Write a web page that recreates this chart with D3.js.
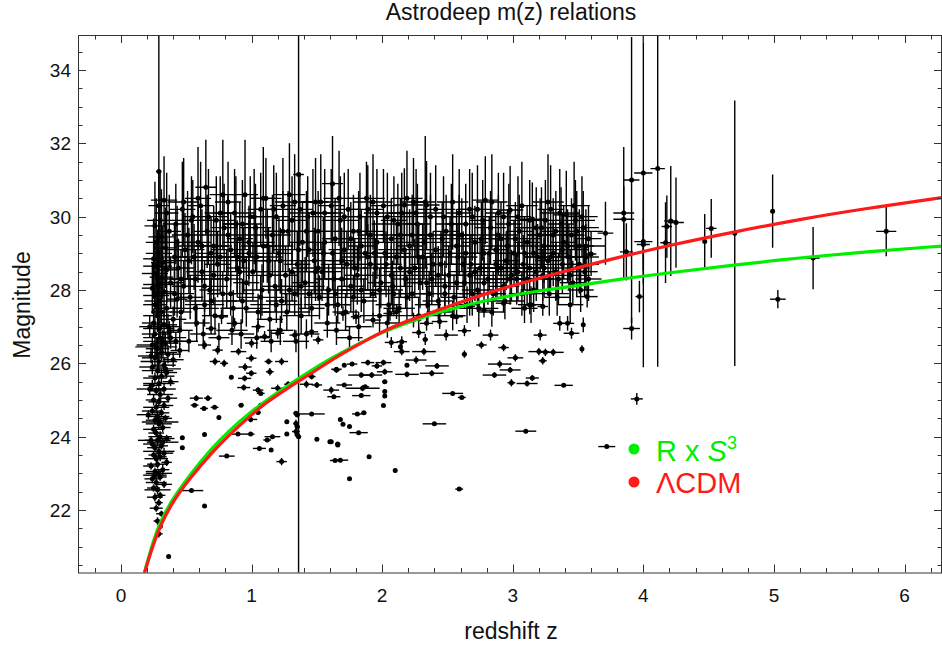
<!DOCTYPE html>
<html>
<head>
<meta charset="utf-8">
<script src="https://cdn.jsdelivr.net/npm/d3@7"></script>
<style>
  body { margin: 0; background: #fff; }
  svg text { font-family: "Liberation Sans", Arial, sans-serif; fill: #111; }
</style>
</head>
<body>
<svg id="chart" width="942" height="648"></svg>
<script>
// each point: [z, magnitude, z error, magnitude error]

// dense low-redshift column
const lowZColumn = [
  [0.29,21.35,0.03,0.1],[0.30,21.55,0.02,0.08],[0.28,21.7,0.03,0.1],[0.31,21.9,0.04,0.08],
  [0.27,22.05,0.05,0.1],[0.29,22.2,0.03,0.1],[0.26,22.35,0.06,0.12],[0.30,22.4,0.04,0.1],
  [0.28,22.55,0.1,0.12],[0.25,22.6,0.05,0.1],[0.33,22.7,0.06,0.1],[0.27,22.75,0.08,0.12],
  [0.24,22.85,0.06,0.12],[0.30,22.9,0.05,0.1],[0.29,23.0,0.1,0.1],[0.26,23.05,0.07,0.1],
  [0.32,23.1,0.05,0.15],[0.23,23.2,0.06,0.1],[0.28,23.25,0.08,0.12],[0.35,23.3,0.04,0.1],
  [0.27,23.4,0.09,0.1],[0.30,23.45,0.05,0.12],[0.25,23.5,0.04,0.1],[0.33,23.55,0.07,0.15],
  [0.29,23.6,0.12,0.12],[0.26,23.7,0.06,0.1],[0.31,23.75,0.05,0.1],[0.24,23.8,0.07,0.12],
  [0.28,23.9,0.1,0.15],[0.35,23.95,0.06,0.1],[0.30,24.0,0.09,0.15],[0.27,24.1,0.06,0.1],
  [0.25,24.2,0.08,0.12],[0.32,24.25,0.06,0.12],[0.29,24.35,0.1,0.15],[0.26,24.45,0.07,0.12],
  [0.34,24.5,0.05,0.1],[0.28,24.55,0.09,0.15],[0.31,24.65,0.06,0.12],[0.24,24.7,0.08,0.1],
  [0.27,24.8,0.1,0.15],[0.33,24.85,0.07,0.12],[0.29,24.95,0.08,0.12],[0.25,25.0,0.06,0.15],
  [0.36,25.05,0.07,0.1],[0.30,25.15,0.1,0.15],[0.27,25.25,0.06,0.12],[0.33,25.3,0.09,0.15],
  [0.24,25.4,0.07,0.15],[0.29,25.45,0.12,0.2],[0.38,25.5,0.06,0.12],[0.26,25.6,0.09,0.15],
  [0.31,25.65,0.1,0.2],[0.35,25.75,0.08,0.15],[0.28,25.8,0.12,0.2],[0.24,25.9,0.1,0.2],
  [0.33,25.95,0.09,0.2],[0.29,26.05,0.14,0.25],[0.40,26.1,0.08,0.2],[0.26,26.15,0.1,0.25],
  [0.36,26.25,0.1,0.25],[0.31,26.3,0.12,0.25],[0.45,26.35,0.07,0.2],[0.28,26.4,0.09,0.3],
  [0.24,26.5,0.12,0.3],[0.34,26.55,0.1,0.3],[0.42,26.6,0.09,0.25],[0.30,26.7,0.13,0.35],
  [0.26,26.8,0.1,0.35],[0.37,26.85,0.08,0.3],[0.29,26.95,0.12,0.4],[0.33,27.05,0.1,0.4],
  [0.25,27.1,0.09,0.4],[0.40,27.2,0.1,0.35],[0.28,27.3,0.11,0.45],[0.31,27.4,0.08,0.5],
  [0.35,27.5,0.1,0.5],[0.26,27.6,0.09,0.55],[0.30,27.7,0.12,0.6],[0.43,27.75,0.08,0.5],
  [0.27,27.85,0.1,0.6],[0.33,27.95,0.09,0.7],[0.24,28.05,0.08,0.7],[0.29,28.15,0.12,0.8],
  [0.38,28.2,0.1,0.7],[0.31,28.35,0.09,0.8],[0.26,28.45,0.1,0.9],[0.35,28.55,0.08,0.9],
  [0.28,28.65,0.11,1.0],[0.32,28.75,0.09,1.0],[0.25,28.85,0.08,1.1],[0.41,28.9,0.1,0.9],
  [0.29,29.0,0.1,1.2],[0.34,29.15,0.09,1.1],[0.27,29.3,0.08,1.2],[0.31,29.45,0.1,1.3],
  [0.37,29.6,0.09,1.0],[0.26,29.75,0.08,1.2],[0.30,29.9,0.1,1.3],[0.35,30.1,0.09,1.1],
  [0.29,30.3,0.08,1.0],[0.33,30.45,0.1,1.2],[0.29,31.23,0.02,4.2],
  [0.22,27.0,0.08,0.3],[0.36,27.0,0.1,0.35],[0.32,26.6,0.15,0.3],[0.23,26.2,0.1,0.2],
  [0.38,26.7,0.12,0.3],[0.27,26.45,0.16,0.25],[0.22,25.3,0.1,0.15],[0.34,25.85,0.12,0.2],
  [0.21,24.6,0.09,0.12],[0.30,24.4,0.14,0.12],[0.23,23.9,0.1,0.1],[0.32,23.85,0.12,0.1],
  [0.26,22.95,0.09,0.1]
];

// main cloud of faint galaxies, large magnitude errors
const mainCloud = [
  [0.42,29.8,.1,1.1],[0.44,28.6,.12,.8],[0.46,27.4,.08,.5],[0.47,30.2,.1,1.3],[0.49,29.1,.15,1.0],[0.45,26.9,.1,.4],[0.48,28.1,.09,.7],
  [0.51,29.5,.12,1.2],[0.53,27.8,.1,.6],[0.55,30.0,.08,1.0],[0.56,28.9,.14,.9],[0.58,27.1,.1,.5],[0.52,26.6,.07,.3],[0.59,29.3,.1,1.1],[0.57,28.3,.2,.8],
  [0.61,30.3,.1,1.2],[0.62,28.5,.12,.8],[0.64,27.6,.15,.6],[0.66,29.6,.1,1.0],[0.68,28.0,.08,.7],[0.63,26.8,.1,.4],[0.69,29.0,.12,1.0],[0.65,30.8,.08,1.3],
  [0.71,29.2,.14,1.1],[0.72,27.3,.1,.5],[0.74,28.7,.1,.9],[0.76,30.1,.12,1.0],[0.78,27.9,.1,.6],[0.75,26.7,.08,.4],[0.79,29.7,.1,1.2],
  [0.81,28.3,.12,.8],[0.82,30.4,.1,1.1],[0.84,29.1,.15,1.0],[0.86,27.5,.1,.5],[0.88,29.8,.1,1.3],[0.85,26.9,.12,.4],[0.89,28.6,.08,.8],
  [0.91,29.4,.1,1.0],[0.93,27.7,.12,.6],[0.95,30.6,.1,1.5],[0.96,28.2,.1,.7],[0.98,29.0,.14,.9],[0.92,26.8,.1,.4],[0.99,30.0,.1,1.1],[0.94,28.8,.2,.9],
  [1.01,28.5,.1,.8],[1.03,29.7,.12,1.2],[1.05,27.4,.1,.5],[1.07,30.2,.1,1.0],[1.08,28.0,.15,.7],[1.04,26.7,.1,.3],[1.09,29.2,.1,1.0],
  [1.11,30.5,.12,1.1],[1.13,28.8,.1,.9],[1.14,27.2,.1,.5],[1.16,29.5,.14,1.1],[1.18,28.1,.1,.7],[1.15,26.6,.08,.3],[1.19,30.0,.1,1.2],
  [1.21,29.0,.1,1.0],[1.23,27.7,.12,.6],[1.24,30.3,.1,1.3],[1.26,28.4,.1,.8],[1.28,29.6,.15,1.1],[1.22,26.9,.1,.4],[1.29,28.0,.1,.6],
  [1.31,29.9,.12,1.2],[1.33,27.9,.1,.6],[1.35,28.7,.1,.9],[1.37,30.2,.1,1.0],[1.38,27.3,.14,.5],[1.34,26.6,.1,.3],[1.39,29.3,.1,1.1],
  [1.36,31.15,.04,13],
  [1.41,28.2,.1,.7],[1.43,30.0,.12,1.1],[1.44,29.1,.1,1.0],[1.46,27.5,.1,.5],[1.48,28.8,.15,.9],[1.42,26.8,.1,.4],[1.49,30.4,.1,1.2],
  [1.51,29.6,.1,1.1],[1.52,27.8,.12,.6],[1.54,28.5,.1,.8],[1.56,30.1,.14,1.2],[1.58,27.1,.1,.4],[1.55,29.0,.1,1.0],[1.59,28.0,.2,.7],
  [1.61,30.3,.1,1.0],[1.63,28.3,.12,.8],[1.64,29.4,.1,1.1],[1.66,27.6,.1,.5],[1.68,29.9,.14,1.2],[1.65,26.9,.1,.4],[1.69,28.8,.1,.9],[1.62,30.9,.08,1.3],
  [1.71,29.1,.12,1.0],[1.72,27.4,.1,.5],[1.74,30.2,.1,1.1],[1.76,28.1,.1,.7],[1.78,29.6,.15,1.0],[1.75,26.7,.1,.3],[1.79,28.6,.1,.8],
  [1.81,28.4,.1,.8],[1.83,30.0,.12,1.2],[1.84,29.2,.1,1.0],[1.86,27.7,.1,.6],[1.88,30.5,.14,1.0],[1.82,27.0,.1,.4],[1.89,28.9,.2,.9],
  [1.91,29.5,.1,1.1],[1.93,27.9,.12,.6],[1.95,28.6,.1,.8],[1.96,30.1,.1,1.2],[1.98,27.3,.15,.5],[1.94,29.0,.1,.9],[1.99,28.2,.1,.7],
  [2.01,30.3,.1,1.0],[2.03,28.7,.12,.9],[2.05,27.6,.1,.5],[2.07,29.4,.1,1.1],[2.08,28.1,.15,.7],[2.04,27.1,.1,.4],[2.09,29.9,.1,1.2],
  [2.11,28.9,.1,.9],[2.13,27.5,.12,.5],[2.15,30.1,.1,1.1],[2.17,30.32,.08,1.0],[2.18,28.3,.1,.8],[2.14,29.5,.15,1.0],[2.19,27.8,.1,.6],
  [2.21,29.2,.1,1.0],[2.23,27.9,.12,.6],[2.25,28.6,.1,.8],[2.27,29.8,.1,1.1],[2.28,27.3,.15,.5],[2.24,30.4,.1,1.2],[2.29,28.2,.1,.7],
  [2.31,28.9,.1,.9],[2.33,30.4,.08,1.8],[2.34,30.32,.1,1.2],[2.35,27.6,.1,.5],[2.37,29.5,.12,1.1],[2.38,28.3,.1,.7],[2.36,27.9,.15,.6],
  [2.41,29.1,.1,1.0],[2.43,27.7,.12,.5],[2.45,28.7,.1,.9],[2.47,30.0,.1,1.1],[2.48,28.1,.15,.7],[2.44,27.4,.1,.4],[2.49,29.6,.1,1.0],
  [2.51,28.4,.1,.8],[2.53,29.8,.12,1.1],[2.55,27.8,.1,.6],[2.57,29.2,.1,1.0],[2.58,28.9,.15,.9],[2.54,27.3,.1,.4],[2.59,30.1,.1,1.2],
  [2.61,29.5,.1,1.0],[2.63,28.2,.12,.7],[2.65,27.6,.1,.5],[2.67,30.2,.1,1.1],[2.68,28.7,.15,.8],[2.64,29.0,.1,.9],[2.69,27.9,.1,.6],
  [2.71,29.3,.1,1.0],[2.73,28.0,.12,.6],[2.75,28.6,.1,.8],[2.77,29.9,.1,1.1],[2.79,30.45,.1,1.2],[2.74,27.5,.15,.5],[2.78,29.0,.1,.9],
  [2.81,28.3,.1,.7],[2.83,29.7,.12,1.0],[2.85,27.9,.1,.6],[2.87,29.1,.1,1.0],[2.88,28.6,.15,.8],[2.84,27.4,.1,.4],[2.89,30.1,.1,1.1],
  [2.91,29.4,.1,1.0],[2.93,28.1,.12,.7],[2.95,28.8,.1,.8],[2.97,29.8,.1,1.1],[2.98,30.18,.1,1.2],[2.94,27.7,.15,.5],[2.99,28.4,.1,.7],
  [3.01,29.0,.1,.9],[3.03,28.3,.12,.7],[3.05,29.6,.1,1.0],[3.07,27.9,.1,.6],[3.08,28.7,.15,.8],[3.04,30.0,.1,1.1],[3.09,27.5,.1,.4],
  [3.11,29.3,.1,1.0],[3.13,28.6,.12,.8],[3.15,29.93,.1,1.0],[3.16,28.0,.1,.6],[3.18,29.7,.15,1.1],[3.14,27.6,.1,.5],[3.19,28.9,.1,.9],
  [3.21,29.5,.1,1.0],[3.23,28.4,.12,.7],[3.25,29.9,.1,1.1],[3.27,28.8,.1,.9],[3.28,27.9,.15,.6],[3.24,29.2,.1,1.0],[3.29,30.2,.1,1.2],
  [3.31,29.0,.1,.9],[3.33,29.6,.12,1.1],[3.35,28.3,.1,.7],[3.37,29.8,.1,1.0],[3.38,28.7,.15,.8],[3.34,27.8,.1,.5],[3.39,29.3,.1,1.0],
  [3.41,30.05,.1,1.2],[3.43,28.9,.12,.9],[3.45,29.5,.1,1.0],[3.46,28.2,.1,.6],[3.48,29.9,.15,1.1],[3.44,27.6,.1,.5],[3.49,28.6,.1,.8],
  [3.51,29.2,.1,1.0],[3.52,28.0,.1,.6],[3.54,29.7,.12,1.0],[3.55,28.5,.1,.7],[3.57,27.82,.08,.3],[3.58,29.4,.1,.9],[3.56,28.9,.1,.9]
];

// more of the cloud, wider redshift errors
const cloudWide = [
  [0.43,29.3,.18,1.0],[0.46,28.3,.2,.8],[0.48,30.4,.12,1.2],[0.41,27.9,.15,.6],
  [0.52,28.8,.2,.9],[0.54,29.9,.15,1.2],[0.57,27.5,.18,.5],[0.59,30.5,.1,1.4],
  [0.62,29.2,.2,1.0],[0.64,28.1,.18,.7],[0.67,30.0,.15,1.3],[0.69,27.7,.2,.6],
  [0.71,28.4,.2,.8],[0.73,29.9,.15,1.2],[0.76,28.9,.2,1.0],[0.78,30.6,.1,1.5],
  [0.82,29.5,.2,1.1],[0.84,27.9,.18,.6],[0.87,30.1,.15,1.2],[0.89,28.9,.2,1.0],
  [0.91,28.5,.2,.8],[0.93,29.8,.15,1.2],[0.96,27.5,.18,.5],[0.98,29.3,.2,1.0],
  [1.02,30.0,.15,1.3],[1.04,28.9,.2,.9],[1.07,27.8,.18,.6],[1.09,30.5,.1,1.4],
  [1.12,29.2,.2,1.0],[1.14,28.4,.18,.8],[1.17,30.2,.15,1.2],[1.19,27.6,.2,.5],
  [1.22,28.8,.2,.9],[1.24,29.6,.15,1.1],[1.27,27.4,.18,.5],[1.29,30.6,.12,1.4],
  [1.31,28.5,.2,.8],[1.33,30.4,.15,1.3],[1.36,29.1,.2,1.0],[1.38,28.1,.18,.7],
  [1.42,29.6,.2,1.1],[1.44,27.9,.15,.6],[1.47,30.1,.18,1.2],[1.49,28.5,.2,.8],
  [1.51,28.6,.2,.9],[1.53,30.4,.15,1.3],[1.56,29.3,.2,1.0],[1.58,27.6,.18,.5],
  [1.62,29.0,.2,1.0],[1.64,27.9,.18,.6],[1.67,30.5,.12,1.3],[1.69,28.3,.2,.8],
  [1.71,30.0,.15,1.2],[1.73,28.7,.2,.9],[1.76,29.4,.2,1.0],[1.78,27.8,.18,.6],
  [1.82,29.6,.2,1.1],[1.84,28.0,.15,.6],[1.87,29.0,.2,1.0],[1.89,30.2,.12,1.2],
  [1.91,28.7,.2,.9],[1.93,30.4,.15,1.3],[1.96,29.3,.2,1.0],[1.98,28.0,.18,.6],
  [2.02,29.0,.2,1.0],[2.04,30.0,.15,1.2],[2.07,28.4,.2,.8],[2.09,27.9,.18,.6],
  [2.12,29.8,.2,1.1],[2.14,28.6,.15,.8],[2.17,29.1,.2,1.0],[2.19,30.5,.12,1.3],
  [2.21,28.5,.2,.8],[2.23,29.5,.15,1.1],[2.26,30.1,.2,1.2],[2.28,28.9,.18,.9],
  [2.32,29.3,.2,1.0],[2.34,28.2,.15,.7],[2.37,30.0,.2,1.2],[2.39,28.7,.18,.9],
  [2.41,30.2,.15,1.2],[2.43,28.4,.2,.8],[2.46,29.4,.2,1.0],[2.48,27.9,.18,.6],
  [2.52,29.0,.2,1.0],[2.54,30.4,.12,1.3],[2.57,28.2,.2,.7],[2.59,29.5,.15,1.1],
  [2.62,28.7,.2,.9],[2.64,29.8,.15,1.1],[2.67,28.4,.2,.8],[2.69,30.0,.18,1.2],
  [2.71,28.5,.2,.8],[2.73,30.2,.15,1.2],[2.76,29.4,.2,1.0],[2.78,28.2,.18,.7],
  [2.82,29.0,.2,1.0],[2.84,30.4,.12,1.3],[2.87,28.7,.2,.9],[2.89,29.5,.15,1.1],
  [2.91,28.6,.2,.8],[2.93,30.0,.15,1.2],[2.96,29.2,.2,1.0],[2.98,28.3,.18,.7],
  [3.02,29.4,.2,1.0],[3.04,28.5,.15,.8],[3.07,30.3,.12,1.2],[3.09,29.0,.2,1.0],
  [3.11,28.3,.2,.7],[3.13,29.9,.15,1.1],[3.16,29.0,.2,1.0],[3.18,28.5,.18,.8],
  [3.22,29.7,.2,1.1],[3.24,28.6,.15,.8],[3.27,30.4,.12,1.3],[3.29,28.9,.2,.9],
  [3.31,29.5,.2,1.0],[3.33,28.5,.15,.8],[3.36,30.1,.15,1.2],[3.38,29.1,.2,1.0],
  [3.42,29.2,.2,1.0],[3.44,28.4,.15,.7],[3.47,30.3,.12,1.2],[3.49,29.6,.2,1.1],
  [3.51,28.7,.15,.8],[3.53,30.0,.12,1.1],[3.56,29.2,.15,1.0],[3.58,28.3,.1,.6]
];

// brighter objects below the cloud, small errors
const brightSparse = [
  [0.365,20.73,0,0],[0.54,22.53,0.09,0.05],[0.64,22.11,0,0],[0.64,24.06,0,0],[0.81,23.47,0.06,0.05],
  [0.577,25.05,0.05,0.08],[0.666,25.05,0.03,0.08],[0.564,24.86,0.03,0.05],[0.636,24.77,0.03,0.05],
  [0.717,24.8,0.03,0.05],[0.75,24.52,0,0.05],[0.47,23.97,0,0.05],[0.47,23.7,0,0],
  [0.845,25.62,0,0.05],[0.947,25.59,0.05,0.08],[0.998,25.73,0.04,0.08],[1.14,25.77,0.03,0.1],
  [0.94,25.34,0.05,0.08],[1.05,25.27,0.04,0.08],[1.07,25.18,0.03,0.05],[1.20,25.32,0.05,0.1],
  [1.28,25.43,0.03,0.08],[1.42,25.43,0.05,0.1],[1.50,25.41,0.04,0.08],[1.61,25.27,0.06,0.1],
  [1.65,25.82,0.03,0.08],[1.46,25.64,0.03,0.08],[1.23,26.05,0.05,0.1],[1.13,26.05,0.03,0.08],
  [0.998,26.14,0.04,0.1],[0.92,24.86,0.02,0.05],[0.993,24.47,0.05,0.08],[1.07,24.86,0.02,0.05],
  [1.05,24.66,0.02,0.05],[0.896,24.07,0.07,0.05],[0.993,24.07,0.03,0.05],[1.12,23.91,0.03,0.05],
  [1.16,24.0,0.06,0.05],[1.27,24.07,0,0.05],[1.06,23.68,0.05,0.05],[1.15,23.64,0,0.05],
  [1.23,23.32,0.04,0.1],[1.50,23.93,0,0],[1.60,23.86,0,0],[1.66,23.8,0.02,0],[1.64,23.35,0.04,0],
  [1.34,24.64,0.02,0.05],[1.35,24.59,0.02,0.05],[1.34,24.36,0.02,0.1],[1.35,24.27,0.02,0.05],
  [1.34,24.14,0.03,0.1],[1.35,24.05,0.02,0.05],[1.36,24.0,0.02,0.05],[1.46,24.62,0.1,0.05],[1.27,24.41,0,0.05],
  [1.05,27.0,0.05,0.15],[1.10,26.73,0.04,0.15],[1.20,26.82,0.05,0.15],[1.33,26.77,0.04,0.15],
  [1.46,26.86,0.05,0.15],[1.51,26.64,0.04,0.12],[0.77,27.27,0.05,0.2],[0.87,27.09,0.06,0.15],
  [0.69,26.95,0.04,0.15],[0.64,26.5,0.05,0.12],[0.74,26.36,0.04,0.12],[0.90,26.32,0.06,0.1],
  [1.00,26.55,0.05,0.12],[0.72,26.05,0.04,0.1],[0.79,26.0,0.03,0.1],[0.95,25.9,0.05,0.1],
  [1.65,25.84,0.04,0.05],[1.71,25.95,0,0.05],[1.77,25.98,0.04,0.05],[1.84,25.68,0.1,0.08],
  [1.89,26.02,0.05,0.08],[1.92,25.68,0.08,0.08],[1.96,25.93,0.04,0.08],[2.01,26.02,0.06,0.08],
  [2.02,25.77,0.06,0.08],[2.19,25.7,0.09,0.08],[2.19,25.95,0,0.05],[2.26,26.09,0.08,0.1],
  [2.38,25.73,0.09,0.08],[2.42,25.93,0.09,0.08],[1.71,25.41,0.06,0.05],[1.85,25.32,0.13,0.08],
  [1.87,25.36,0.03,0.05],[1.84,25.12,0.07,0.05],[2.02,25.5,0.02,0.05],[2.02,25.23,0,0.05],
  [2.02,25.11,0,0.05],[2.01,24.85,0,0],[1.63,25.09,0.05,0.05],[1.68,24.47,0,0],[1.70,24.34,0,0],
  [1.75,24.28,0,0],[1.81,24.62,0.04,0.03],[1.86,24.65,0.02,0.03],[1.82,24.11,0.07,0.03],
  [1.61,23.86,0,0],[1.66,23.77,0,0],[1.68,23.36,0.06,0],[1.90,23.45,0,0],[1.75,22.85,0,0],
  [2.10,23.08,0,0],[2.40,24.35,0.09,0.03],[2.54,25.18,0.08,0.03],[2.61,25.07,0.03,0.03],
  [2.59,22.57,0.03,0.05],[3.10,24.15,0.08,0.05],[2.63,26.25,0.02,0.1],[2.76,26.5,0.04,0.1],
  [2.93,26.43,0.04,0.1],[3.02,26.15,0.06,0.1],[2.90,25.98,0.09,0.1],[2.86,25.68,0.09,0.08],
  [2.98,25.82,0.08,0.08],[2.99,25.47,0.03,0.1],[3.11,25.45,0.08,0.08],[3.15,25.6,0.05,0.08],
  [3.39,25.4,0.07,0.05],[3.20,26.32,0.08,0.1],[3.25,26.3,0.05,0.1],[3.31,26.3,0.08,0.1],
  [3.23,26.07,0.03,0.1],[3.53,26.39,0,0.1],[3.21,26.77,0.05,0.15],[2.83,26.77,0.06,0.15],
  [2.49,26.77,0.09,0.15],[2.63,26.89,0.05,0.15],[2.28,26.84,0.05,0.15],[2.33,26.65,0.02,0.15],
  [2.07,26.57,0.05,0.15],[2.15,26.59,0.04,0.15],[2.14,26.45,0,0.1],[2.15,26.32,0.06,0.1],
  [2.32,26.32,0.09,0.1],[3.45,26.82,0.06,0.15],[3.42,27.09,0.05,0.2],[3.36,27.09,0.05,0.2],
  [3.54,27.05,0,0.2],[1.70,27.36,0.05,0.2],[1.80,27.27,0.04,0.2],[1.93,27.18,0.06,0.2],
  [2.06,27.36,0.05,0.2],[2.11,27.41,0.04,0.2],[2.24,27.18,0.06,0.2],[2.34,27.09,0.05,0.2],
  [2.44,27.14,0.06,0.2],[2.57,27.27,0.05,0.2],[2.67,27.55,0.04,0.25],[2.78,27.45,0.05,0.2],
  [2.93,27.64,0.06,0.25],[3.13,27.59,0.05,0.25],[3.23,27.55,0.04,0.25]
];

// sparse high redshift objects
const highZ = [
  [3.60,28.98,0.04,0.6],[3.71,29.55,0.06,0.86],[3.85,30.1,0.08,1.8],[3.85,29.93,0.08,0.9],
  [3.91,31.0,0.06,3.9],[3.87,29.04,0.05,0.78],[3.97,27.82,0.03,0.43],[3.91,26.95,0.064,0.3],
  [4.00,31.19,0.07,5.3],[4.00,29.32,0.07,1.15],[4.00,29.24,0.05,0.7],[4.11,31.31,0.055,5.4],
  [4.17,29.29,0.04,1.1],[4.18,29.73,0.04,0.85],[4.21,29.88,0.05,1.5],[4.25,29.84,0.06,1.23],
  [4.47,29.32,0,0.75],[4.52,29.68,0.04,0.8],[4.70,29.55,0,3.62],[4.99,30.15,0,1.0],
  [5.03,27.75,0.06,0.25],[5.30,28.87,0.05,0.85],[5.86,29.6,0.077,0.68],
  [3.95,25.03,0.046,0.16],[3.72,23.73,0.065,0]
];

// model curves
const lcdmZ   = [0.18,0.25,0.31,0.4,0.54,0.7,0.82,1.0,1.1,1.3,1.46,1.66,1.9,2.11,2.29,2.5,2.88,3.06,3.4,3.82,4.2,4.69,5.2,5.7,6.29];
const lcdmMag = [20.28,21.1,21.64,22.25,22.92,23.58,24.02,24.6,24.9,25.38,25.73,26.2,26.68,27.05,27.27,27.55,28.0,28.18,28.52,28.9,29.22,29.58,29.93,30.22,30.52];
const rs3Z    = [0.18,0.25,0.31,0.4,0.54,0.7,0.82,1.0,1.2,1.46,1.6,1.8,2.0,2.29,2.6,2.9,3.2,3.5,3.82,4.2,4.69,5.2,5.7,6.29];
const rs3Mag  = [20.3,21.2,21.75,22.33,23.02,23.7,24.14,24.7,25.22,25.82,26.12,26.5,26.85,27.25,27.55,27.8,27.98,28.12,28.3,28.47,28.68,28.88,29.04,29.2];

const xTicks = [0, 1, 2, 3, 4, 5, 6];
const yTicks = [22, 24, 26, 28, 30, 32, 34];
const legendItems = [
  {label: 'R x S3', color: '#00ee00'},
  {label: 'ΛCDM', color: '#ff1a1a'}
];

const svg = d3.select('#chart');
const W = 942, H = 648;
const plotLeft = 78, plotRight = 942, plotTop = 35, plotBottom = 572.5;

let x = d3.scaleLinear().domain([-0.329, 6.287]).range([plotLeft, plotRight]);
let y = d3.scaleLinear().domain([20.296, 34.954]).range([plotBottom, plotTop]);

svg.append('rect').attr('width', W).attr('height', H).attr('fill', '#fff');

svg.append('clipPath').attr('id', 'plotClip')
  .append('rect').attr('x', plotLeft).attr('y', plotTop)
  .attr('width', plotRight - plotLeft).attr('height', plotBottom - plotTop);

let plot = svg.append('g').attr('clip-path', 'url(#plotClip)');

// error bars + points
let allPoints = [].concat(lowZColumn, mainCloud, cloudWide, brightSparse, highZ);

let bars = plot.append('g').attr('stroke', '#000').attr('stroke-width', 1.4);
bars.selectAll('line.v')
  .data(allPoints.filter(d => d[3] > 0))
  .join('line')
  .attr('class', 'v')
  .attr('x1', d => x(d[0])).attr('x2', d => x(d[0]))
  .attr('y1', d => y(d[1] - d[3])).attr('y2', d => y(d[1] + d[3]));
bars.selectAll('line.h')
  .data(allPoints.filter(d => d[2] > 0))
  .join('line')
  .attr('class', 'h')
  .attr('x1', d => x(d[0] - d[2])).attr('x2', d => x(d[0] + d[2]))
  .attr('y1', d => y(d[1])).attr('y2', d => y(d[1]));
plot.append('g').selectAll('circle')
  .data(allPoints)
  .join('circle')
  .attr('cx', d => x(d[0]))
  .attr('cy', d => y(d[1]))
  .attr('r', 2.5)
  .attr('fill', '#000');

// model curves, green under red
let line = d3.line().x(d => x(d[0])).y(d => y(d[1])).curve(d3.curveBasis);
plot.append('path')
  .datum(rs3Z.map((z, i) => [z, rs3Mag[i]]))
  .attr('d', line)
  .attr('fill', 'none')
  .attr('stroke', legendItems[0].color)
  .attr('stroke-width', 3.2);
plot.append('path')
  .datum(lcdmZ.map((z, i) => [z, lcdmMag[i]]))
  .attr('d', line)
  .attr('fill', 'none')
  .attr('stroke', legendItems[1].color)
  .attr('stroke-width', 3.2);

// frame with ticks on all sides
let frame = svg.append('g').attr('stroke', '#333').attr('stroke-width', 1);
frame.append('rect')
  .attr('x', plotLeft + 0.5).attr('y', plotTop + 0.5)
  .attr('width', plotRight - plotLeft - 1).attr('height', plotBottom - plotTop)
  .attr('fill', 'none');

let xMinor = d3.range(-0.2, 6.3, 0.2).filter(v => Math.abs(v - Math.round(v)) > 0.01);
let yMinor = d3.range(20.5, 35, 0.5).filter(v => v % 2 !== 0);

function addXTicks(g, vals, len) {
  vals.forEach(v => {
    let px = Math.round(x(v)) + 0.5;
    g.append('line').attr('x1', px).attr('x2', px).attr('y1', plotBottom).attr('y2', plotBottom - len);
    g.append('line').attr('x1', px).attr('x2', px).attr('y1', plotTop).attr('y2', plotTop + len);
  });
}
function addYTicks(g, vals, len) {
  vals.forEach(v => {
    let py = Math.round(y(v)) + 0.5;
    g.append('line').attr('x1', plotLeft).attr('x2', plotLeft + len).attr('y1', py).attr('y2', py);
    g.append('line').attr('x1', plotRight).attr('x2', plotRight - len).attr('y1', py).attr('y2', py);
  });
}
addXTicks(frame, xTicks, 8);
addXTicks(frame, xMinor, 4.5);
addYTicks(frame, yTicks, 8);
addYTicks(frame, yMinor, 4.5);

// tick labels
svg.append('g').selectAll('text')
  .data(xTicks)
  .join('text')
  .attr('x', d => x(d))
  .attr('y', 602)
  .attr('text-anchor', 'middle')
  .attr('font-size', 19)
  .text(d => d);
svg.append('g').selectAll('text')
  .data(yTicks)
  .join('text')
  .attr('x', 71)
  .attr('y', d => y(d) + 7)
  .attr('text-anchor', 'end')
  .attr('font-size', 19)
  .text(d => d);

// titles
svg.append('text').attr('x', 511).attr('y', 20).attr('text-anchor', 'middle')
  .attr('font-size', 23).text('Astrodeep m(z) relations');
svg.append('text').attr('x', 511).attr('y', 639).attr('text-anchor', 'middle')
  .attr('font-size', 23).text('redshift z');
svg.append('text').attr('transform', 'translate(30,305) rotate(-90)').attr('text-anchor', 'middle')
  .attr('font-size', 23).text('Magnitude');

// legend
let legend = svg.append('g');
legend.append('circle').attr('cx', 634).attr('cy', 449).attr('r', 5.5).attr('fill', legendItems[0].color);
legend.append('circle').attr('cx', 634).attr('cy', 482).attr('r', 5.5).attr('fill', legendItems[1].color);
let t1 = legend.append('text').attr('x', 656).attr('y', 461).attr('font-size', 29)
  .style('fill', legendItems[0].color);
t1.append('tspan').text('R x ');
t1.append('tspan').attr('font-style', 'italic').text('S');
t1.append('tspan').attr('font-size', 18).attr('dy', -12).text('3');
legend.append('text').attr('x', 656).attr('y', 493).attr('font-size', 29)
  .style('fill', legendItems[1].color).text(legendItems[1].label);
</script>
</body>
</html>
